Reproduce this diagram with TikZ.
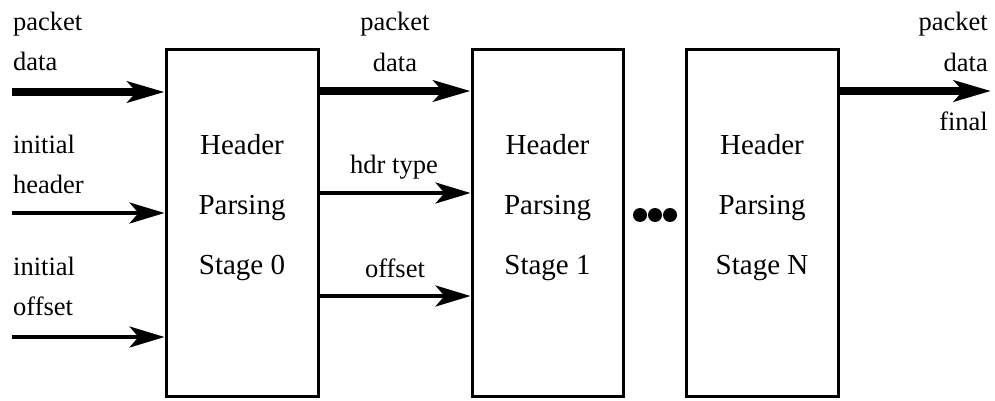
\documentclass[tikz,border=0pt]{standalone}
\usepackage{fontspec}
\setmainfont{Liberation Serif}
\usetikzlibrary{arrows.meta}

\tikzset{
  stagebox/.style={draw=black, line width=3pt, fill=white, inner sep=0pt,
    minimum width=152pt, minimum height=346pt},
  stagetext/.style={align=center, inner sep=0pt, anchor=center,
    font=\fontsize{29}{60}\selectfont},
  sig/.style={font=\fontsize{26.5}{32}\selectfont, inner sep=0pt},
  bus/.style={line width=8pt, -{Stealth[length=37pt, width=21pt, inset=9pt]}},
  wire/.style={line width=3.5pt, -{Stealth[length=35pt, width=21pt, inset=9pt]}},
  dot/.style={circle, fill=black, inner sep=0pt, minimum size=14pt},
}

\begin{document}
\begin{tikzpicture}[x=1pt, y=-1pt]
  \useasboundingbox (0,0) rectangle (995,401);

  % pipeline stages
  \node[stagebox] (s0) at (242,223) {};
  \node[stagebox, minimum width=151pt] (s1) at (547.5,223) {};
  \node[stagebox] (sN) at (762,223) {};

  \node[stagetext] (t0) at (242,208) {Header\\Parsing\\Stage 0};
  \node[stagetext] (t1) at (547.5,208) {Header\\Parsing\\Stage 1};
  \node[stagetext] (tN) at (762,208) {Header\\Parsing\\Stage N};

  % elided stages
  \node[dot] (d1) at (640,215) {};
  \node[dot] (d2) at (655,215) {};
  \node[dot] (d3) at (670,215) {};

  % inputs to stage 0
  \coordinate (inPkt) at (12,92);
  \coordinate (inHdr) at (12,213);
  \coordinate (inOff) at (12,337);
  \draw[bus]  (inPkt) -- (s0.west |- inPkt);
  \draw[wire] (inHdr) -- (s0.west |- inHdr);
  \draw[wire] (inOff) -- (s0.west |- inOff);

  \node[sig, anchor=base west] (lp0) at (13,31) {packet};
  \node[sig, anchor=base west] (ld0) at (13,71) {data};
  \node[sig, anchor=base west] (li1) at (13,153) {initial};
  \node[sig, anchor=base west] (lh1) at (13,193) {header};
  \node[sig, anchor=base west] (li2) at (13,275) {initial};
  \node[sig, anchor=base west] (lo2) at (13,315) {offset};

  % stage 0 -> stage 1
  \coordinate (mPkt) at (0,91);
  \coordinate (mHdr) at (0,193);
  \coordinate (mOff) at (0,296);
  \draw[bus]  (s0.east |- mPkt) -- (s1.west |- mPkt);
  \draw[wire] (s0.east |- mHdr) -- (s1.west |- mHdr);
  \draw[wire] (s0.east |- mOff) -- (s1.west |- mOff);

  \node[sig, anchor=base] (lp1) at (395,31) {packet};
  \node[sig, anchor=base] (ld1) at (395,72) {data};
  \node[sig, anchor=base] (lt1) at (394,173) {hdr type};
  \node[sig, anchor=base] (lo1) at (395,277) {offset};

  % final output
  \coordinate (outPkt) at (991,91);
  \draw[bus] (sN.east |- outPkt) -- (outPkt);

  \node[sig, anchor=base east] (lpN) at (988,31) {packet};
  \node[sig, anchor=base east] (ldN) at (988,72) {data};
  \node[sig, anchor=base east] (lfN) at (988,131) {final};
\end{tikzpicture}
\end{document}
